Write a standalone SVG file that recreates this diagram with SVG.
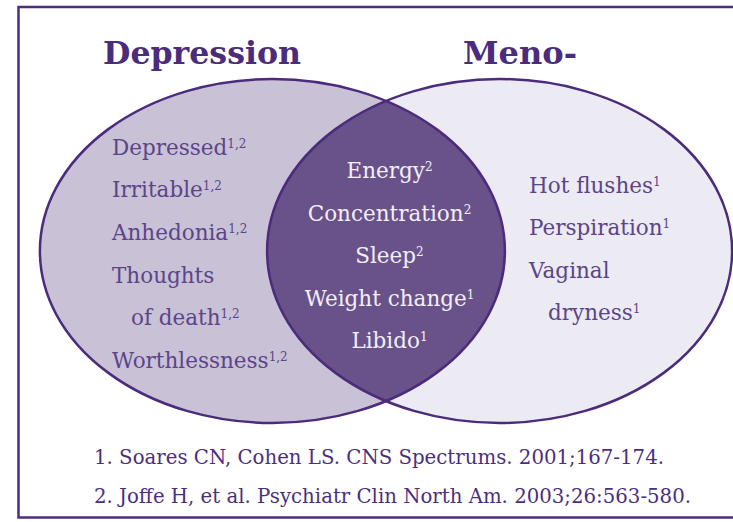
<svg xmlns="http://www.w3.org/2000/svg" width="733" height="522" viewBox="0 0 733 522">
<style>
.frame{fill:#ffffff;stroke:#4b2f7e;stroke-width:2.5}
.outline{fill:none;stroke:#4b2b7c;stroke-width:2.5}
.title{font-family:"DejaVu Serif","Liberation Serif",serif;font-weight:bold;font-size:31px;fill:#4b2c7c}
.body{font-family:"DejaVu Serif","Liberation Serif",serif;font-size:21.5px;fill:#5b4589}
.mid{font-family:"DejaVu Serif","Liberation Serif",serif;font-size:21.5px;fill:#f2eff7;text-anchor:middle}
.sup{font-size:12px}
.ref{font-family:"DejaVu Serif","Liberation Serif",serif;font-size:20px;fill:#4b2f7e}
</style>
<defs>
<clipPath id="clipLeft"><ellipse cx="272.4" cy="251" rx="232.5" ry="172"/></clipPath>
</defs>
<rect class="frame" x="18.5" y="7" width="730" height="510.5"/>
<g id="titles">
<text class="title" x="103" y="63.5" textLength="198" lengthAdjust="spacingAndGlyphs">Depression</text>
<text class="title" x="463" y="63.5" textLength="114" lengthAdjust="spacingAndGlyphs">Meno-</text>
</g>
<g id="set-depression">
<ellipse cx="272.4" cy="251" rx="232.5" ry="172" fill="#c9c1d6"/>
</g>
<g id="set-menopause">
<ellipse cx="499.6" cy="251" rx="232.5" ry="172" fill="#ecebf3"/>
</g>
<g id="overlap">
<ellipse cx="499.6" cy="251" rx="232.5" ry="172" fill="#695289" clip-path="url(#clipLeft)"/>
</g>
<g id="outlines">
<ellipse class="outline" cx="272.4" cy="251" rx="232.5" ry="172"/>
<ellipse class="outline" cx="499.6" cy="251" rx="232.5" ry="172"/>
</g>
<g id="depression-symptoms">
<text class="body" x="112" y="154.5">Depressed<tspan class="sup" dy="-7">1,2</tspan></text>
<text class="body" x="112" y="197.3">Irritable<tspan class="sup" dy="-7">1,2</tspan></text>
<text class="body" x="112" y="240">Anhedonia<tspan class="sup" dy="-7">1,2</tspan></text>
<text class="body" x="112" y="282.5">Thoughts</text>
<text class="body" x="131" y="325">of death<tspan class="sup" dy="-7">1,2</tspan></text>
<text class="body" x="112" y="368">Worthlessness<tspan class="sup" dy="-7">1,2</tspan></text>
</g>
<g id="shared-symptoms">
<text class="mid" x="389.5" y="178.3">Energy<tspan class="sup" dy="-7">2</tspan></text>
<text class="mid" x="389.5" y="220.5">Concentration<tspan class="sup" dy="-7">2</tspan></text>
<text class="mid" x="389.5" y="263.3">Sleep<tspan class="sup" dy="-7">2</tspan></text>
<text class="mid" x="389.5" y="305.5">Weight change<tspan class="sup" dy="-7">1</tspan></text>
<text class="mid" x="389.5" y="348.3">Libido<tspan class="sup" dy="-7">1</tspan></text>
</g>
<g id="menopause-symptoms">
<text class="body" x="529" y="192.7">Hot flushes<tspan class="sup" dy="-7">1</tspan></text>
<text class="body" x="529" y="235">Perspiration<tspan class="sup" dy="-7">1</tspan></text>
<text class="body" x="529" y="277.5">Vaginal</text>
<text class="body" x="548" y="320">dryness<tspan class="sup" dy="-7">1</tspan></text>
</g>
<g id="references">
<text class="ref" x="94" y="464.3" textLength="570" lengthAdjust="spacingAndGlyphs">1. Soares CN, Cohen LS. CNS Spectrums. 2001;167-174.</text>
<text class="ref" x="94" y="502.5" textLength="597" lengthAdjust="spacingAndGlyphs">2. Joffe H, et al. Psychiatr Clin North Am. 2003;26:563-580.</text>
</g>
<g id="connectors"/>
</svg>
